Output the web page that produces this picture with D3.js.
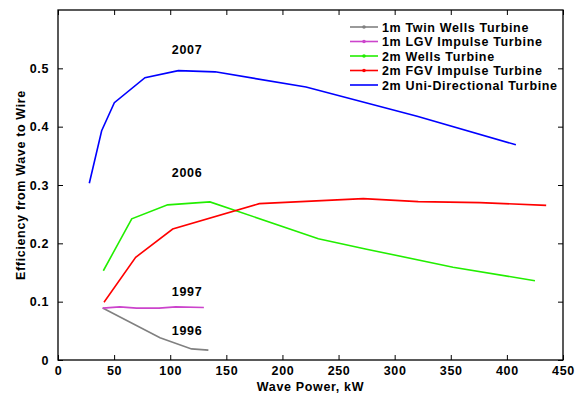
<!DOCTYPE html>
<html>
<head>
<meta charset="utf-8">
<script src="https://cdn.jsdelivr.net/npm/d3@7"></script>
<style>
  body { margin: 0; background: #fff; }
  svg { display: block; font-family: "Liberation Sans", Arial, sans-serif; font-weight: bold; }
  svg text { letter-spacing: 0.65px; }
  .axis text { font-size: 12.5px; font-weight: bold; fill: #000; }
  .axis path, .axis line { stroke: #000; }
</style>
</head>
<body>
<svg width="581" height="394"></svg>
<script>
// series: [power kW, efficiency]
const twinWells = [[39.8, 0.089], [90.9, 0.038], [119, 0.019], [134, 0.017]]
const lgvImpulse = [[39.8, 0.089], [55, 0.091], [70, 0.089], [90, 0.089], [105, 0.091], [130, 0.09]]
const wells2m = [[40.4, 0.153], [65.7, 0.242], [97.7, 0.266], [135.4, 0.271], [232, 0.208], [275, 0.19], [352, 0.159], [425, 0.136]]
const fgvImpulse = [[41, 0.099], [69.2, 0.176], [102.2, 0.2245], [179.4, 0.268], [272, 0.2766], [321, 0.2715], [376, 0.2698], [435, 0.265]]
const uniDirectional = [[27.9, 0.303], [38.9, 0.393], [50.2, 0.441], [77.5, 0.484], [107.2, 0.496], [140, 0.494], [221, 0.468], [320, 0.418], [408, 0.369]]

const seriesNames = ["1m Twin Wells Turbine", "1m LGV Impulse Turbine", "2m Wells Turbine", "2m FGV Impulse Turbine", "2m Uni-Directional Turbine"]
const seriesColors = ["#808080", "#cc44cc", "#22ee00", "#ff0000", "#0000ff"]
const seriesData = [twinWells, lgvImpulse, wells2m, fgvImpulse, uniDirectional]

const xTicks = [0, 50, 100, 150, 200, 250, 300, 350, 400, 450]
const yTicks = [0, 0.1, 0.2, 0.3, 0.4, 0.5]

// year labels next to the curves
const yearLabels = [
  { text: "2007", x: 115, y: 0.525 },
  { text: "2006", x: 115, y: 0.314 },
  { text: "1997", x: 115, y: 0.109 },
  { text: "1996", x: 115, y: 0.043 },
]

const svg = d3.select("svg")
const margin = { top: 10, right: 18, bottom: 34, left: 58 }
const width = +svg.attr("width") - margin.left - margin.right
const height = +svg.attr("height") - margin.top - margin.bottom
const g = svg.append("g").attr("transform", `translate(${margin.left},${margin.top})`)

const x = d3.scaleLinear().domain([0, 450]).range([0, width])
const y = d3.scaleLinear().domain([0, 0.6]).range([height, 0])

// matlab style box with inward ticks on all sides
g.append("g")
  .attr("class", "axis")
  .attr("transform", `translate(0,${height})`)
  .call(d3.axisBottom(x).tickValues(xTicks).tickSizeInner(-5).tickSizeOuter(0).tickPadding(6))
g.append("g")
  .attr("class", "axis")
  .call(d3.axisLeft(y).tickValues(yTicks).tickFormat(d3.format("~g")).tickSizeInner(-5).tickSizeOuter(0).tickPadding(9))
g.append("g")
  .attr("class", "axis")
  .call(d3.axisTop(x).tickValues(xTicks).tickSizeInner(-5).tickSizeOuter(0).tickFormat(""))
g.append("g")
  .attr("class", "axis")
  .attr("transform", `translate(${width},0)`)
  .call(d3.axisRight(y).tickValues(yTicks).tickSizeInner(-5).tickSizeOuter(0).tickFormat(""))
g.selectAll(".axis .domain").remove()
g.append("rect")
  .attr("width", width).attr("height", height)
  .attr("fill", "none").attr("stroke", "#000").attr("stroke-width", 1.3)

const line = d3.line().x((d) => x(d[0])).y((d) => y(d[1]))

seriesData.forEach((s, i) => {
  g.append("path")
    .datum(s)
    .attr("d", line)
    .attr("fill", "none")
    .attr("stroke", seriesColors[i])
    .attr("stroke-width", 1.6)
})

g.selectAll(".year")
  .data(yearLabels)
  .enter()
  .append("text")
  .attr("x", (d) => x(d.x))
  .attr("y", (d) => y(d.y))
  .attr("text-anchor", "middle")
  .attr("font-size", "12.5px")
  .text((d) => d.text)

// legend
const legend = svg.append("g").attr("transform", "translate(350,27)")
seriesNames.forEach((name, i) => {
  const row = legend.append("g").attr("transform", `translate(0,${i * 14.5})`)
  row.append("line")
    .attr("x1", 0).attr("x2", 28)
    .attr("stroke", seriesColors[i]).attr("stroke-width", 1.6)
  if (i < 4) {
    row.append("circle").attr("cx", 14).attr("r", 1.8).attr("fill", seriesColors[i])
  }
  row.append("text")
    .attr("x", 32).attr("dy", "0.36em")
    .attr("font-size", "12.5px")
    .text(name)
})

// axis titles
svg.append("text")
  .attr("x", margin.left + width / 2)
  .attr("y", 391)
  .attr("text-anchor", "middle")
  .attr("font-size", "12.5px")
  .text("Wave Power, kW")
svg.append("text")
  .attr("transform", `translate(25,${margin.top + height / 2}) rotate(-90)`)
  .attr("text-anchor", "middle")
  .attr("font-size", "12.5px")
  .text("Efficiency from Wave to Wire")
</script>
</body>
</html>
